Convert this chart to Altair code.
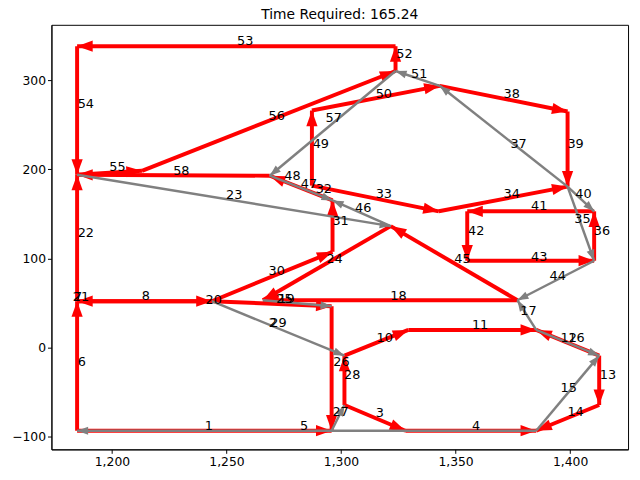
import math
import altair as alt
import pandas as pd

# node coordinates (data units)
nodes = {
    "A": (1184.8, -93.1), "B": (1295.9, -93.1), "C": (1328.1, -93.1), "D": (1385.2, -93.1),
    "E": (1412.7, -64.3), "F": (1412.7, -8.9), "G": (1385.2, 19.9), "H": (1377.0, 53.2),
    "I": (1329.4, 19.9), "J": (1301.5, -8.9), "K": (1301.5, -64.3), "L": (1295.9, 46.5),
    "M": (1265.9, 53.2), "N": (1243.6, 52.1), "O": (1184.8, 52.1), "P": (1296.3, 107.5),
    "Q": (1296.3, 165.1), "R": (1321.7, 136.3), "S": (1184.8, 193.9), "T": (1268.9, 192.8),
    "U": (1213.1, 198.3), "V": (1287.3, 265.9), "W": (1323.8, 310.2), "W2": (1323.8, 338.0),
    "X": (1184.8, 338.0), "Y": (1343.1, 293.6), "Z": (1398.9, 264.8), "AA": (1398.9, 180.6),
    "AB": (1410.5, 152.9), "AC": (1410.5, 97.5), "AD": (1355.1, 152.9), "AE": (1355.1, 97.5),
    "AF": (1342.7, 152.9), "AH": (1287.3, 181.7),
}

red_edges = [("A", "B"), ("O", "N"), ("N", "O"), ("A", "O"), ("O", "S"), ("N", "P"), ("P", "Q"),
             ("R", "M"), ("N", "L"), ("L", "B"), ("K", "J"), ("J", "I"), ("I", "G"), ("K", "C"),
             ("C", "D"), ("E", "D"), ("F", "E"), ("F", "G"), ("H", "M"), ("H", "R"), ("AE", "AC"),
             ("AD", "AE"), ("AB", "AD"), ("AC", "AB"), ("AF", "AA"), ("Z", "AA"), ("Y", "Z"),
             ("AH", "AF"), ("Q", "T"), ("AH", "V"), ("V", "Y"), ("W", "W2"), ("W2", "X"),
             ("X", "S"), ("S", "U"), ("U", "W"), ("T", "S")]
gray_edges = [("D", "A"), ("N", "J"), ("M", "L"), ("B", "K"), ("D", "F"), ("G", "F"), ("G", "H"),
              ("AC", "H"), ("AA", "AC"), ("AA", "AB"), ("AA", "Y"), ("Y", "W"), ("W", "T"),
              ("S", "R"), ("R", "Q"), ("T", "Q")]

label_text = ["1", "5", "3", "4", "27", "28", "26", "10", "11", "12", "16", "13", "14", "15", "17",
              "18", "44", "43", "45", "42", "41", "36", "35", "40", "34", "33", "46", "31", "24",
              "30", "20", "2", "29", "25", "19", "7", "21", "8", "6", "22", "23", "58", "55", "54",
              "53", "56", "57", "49", "48", "47", "32", "50", "51", "52", "38", "37", "39"]
label_x = [1242.3, 1283.9, 1316.9, 1359.0, 1299.8, 1304.9, 1300.2, 1319.1, 1360.7, 1399.4, 1402.8,
           1416.5, 1402.4, 1399.4, 1381.8, 1325.1, 1394.6, 1386.5, 1353.0, 1359.0, 1386.5, 1413.9,
           1405.4, 1405.8, 1374.5, 1318.7, 1309.7, 1299.8, 1297.2, 1271.9, 1244.4, 1270.2, 1272.7,
           1275.3, 1276.2, 1185.2, 1186.5, 1214.8, 1186.9, 1188.6, 1253.4, 1230.3, 1202.4, 1188.6,
           1258.2, 1271.9, 1296.8, 1291.2, 1278.8, 1286.0, 1292.5, 1318.7, 1334.1, 1327.7, 1374.5,
           1377.5, 1402.4]
label_y = [-87.5, -87.5, -73.1, -87.5, -72.0, -31.0, -16.6, 11.1, 25.5, 11.1, 11.1, -31.0, -72.0,
           -45.4, 41.0, 57.6, 79.8, 101.9, 99.7, 130.7, 158.4, 130.7, 144.0, 171.7, 171.7, 171.7,
           156.2, 141.8, 99.7, 86.4, 53.2, 27.7, 27.7, 54.3, 54.3, 56.5, 56.5, 57.6, -16.6, 128.5,
           170.6, 198.3, 202.8, 273.7, 343.5, 259.3, 257.1, 228.2, 192.8, 183.9, 177.3, 284.8,
           306.9, 329.1, 284.8, 228.2, 228.2]

XMIN, XMAX, YMIN, YMAX = 1173.6, 1425.3, -114, 362
W, H = 584, 430
sx, sy = W / (XMAX - XMIN), H / (YMAX - YMIN)


def edge_df(edges):
    rows = []
    for a, b in edges:
        x1, y1 = nodes[a]
        x2, y2 = nodes[b]
        ang = math.degrees(math.atan2((x2 - x1) * sx, (y2 - y1) * sy)) % 360
        rows.append({"x": x1, "y": y1, "x2": x2, "y2": y2, "ang": ang})
    return pd.DataFrame(rows)


red = edge_df(red_edges)
gray = edge_df(gray_edges)
labels = pd.DataFrame({"t": label_text, "x": label_x, "y": label_y})

xs = alt.Scale(domain=[XMIN, XMAX], nice=False, zero=False)
ys = alt.Scale(domain=[YMIN, YMAX], nice=False, zero=False)
head = "M0,0L0.36,1L-0.36,1Z"


def layer(df, color, sw, size):
    r = alt.Chart(df).mark_rule(color=color, strokeWidth=sw).encode(
        x=alt.X("x:Q", scale=xs, axis=alt.Axis(values=[1200, 1250, 1300, 1350, 1400], grid=False,
                                                 title=None, labelFontSize=12.5, labelColor="black",
                                                 tickColor="black", domainColor="black")),
        y=alt.Y("y:Q", scale=ys, axis=alt.Axis(values=[-100, 0, 100, 200, 300], grid=False,
                                                 title=None, labelFontSize=12.5, labelColor="black",
                                                 tickColor="black", domainColor="black")),
        x2="x2:Q", y2="y2:Q")
    h = alt.Chart(df).mark_point(shape=head, filled=True, color=color, opacity=1,
                                 size=size, strokeWidth=0).encode(
        x=alt.X("x2:Q", scale=xs), y=alt.Y("y2:Q", scale=ys), angle=alt.Angle("ang:Q", scale=None))
    return r + h


text = alt.Chart(labels).mark_text(fontSize=13, color="black", font="DejaVu Sans").encode(
    x=alt.X("x:Q", scale=xs), y=alt.Y("y:Q", scale=ys), text="t:N")

chart = (layer(red, "red", 4, 1000) + layer(gray, "gray", 2.5, 500) + text).properties(
    width=W, height=H,
    title=alt.TitleParams("Time Required: 165.24", fontSize=14, fontWeight="normal",
                          font="DejaVu Sans", offset=3),
    autosize=alt.AutoSizeParams(type="none"),
    padding={"left": 44, "top": 14, "right": 4, "bottom": 28},
).configure_view(stroke="black", strokeWidth=1).configure_axis(
    labelFont="DejaVu Sans", domainWidth=1, tickSize=4)

chart.save("out.html", embed_options={"renderer": "svg", "actions": False})
